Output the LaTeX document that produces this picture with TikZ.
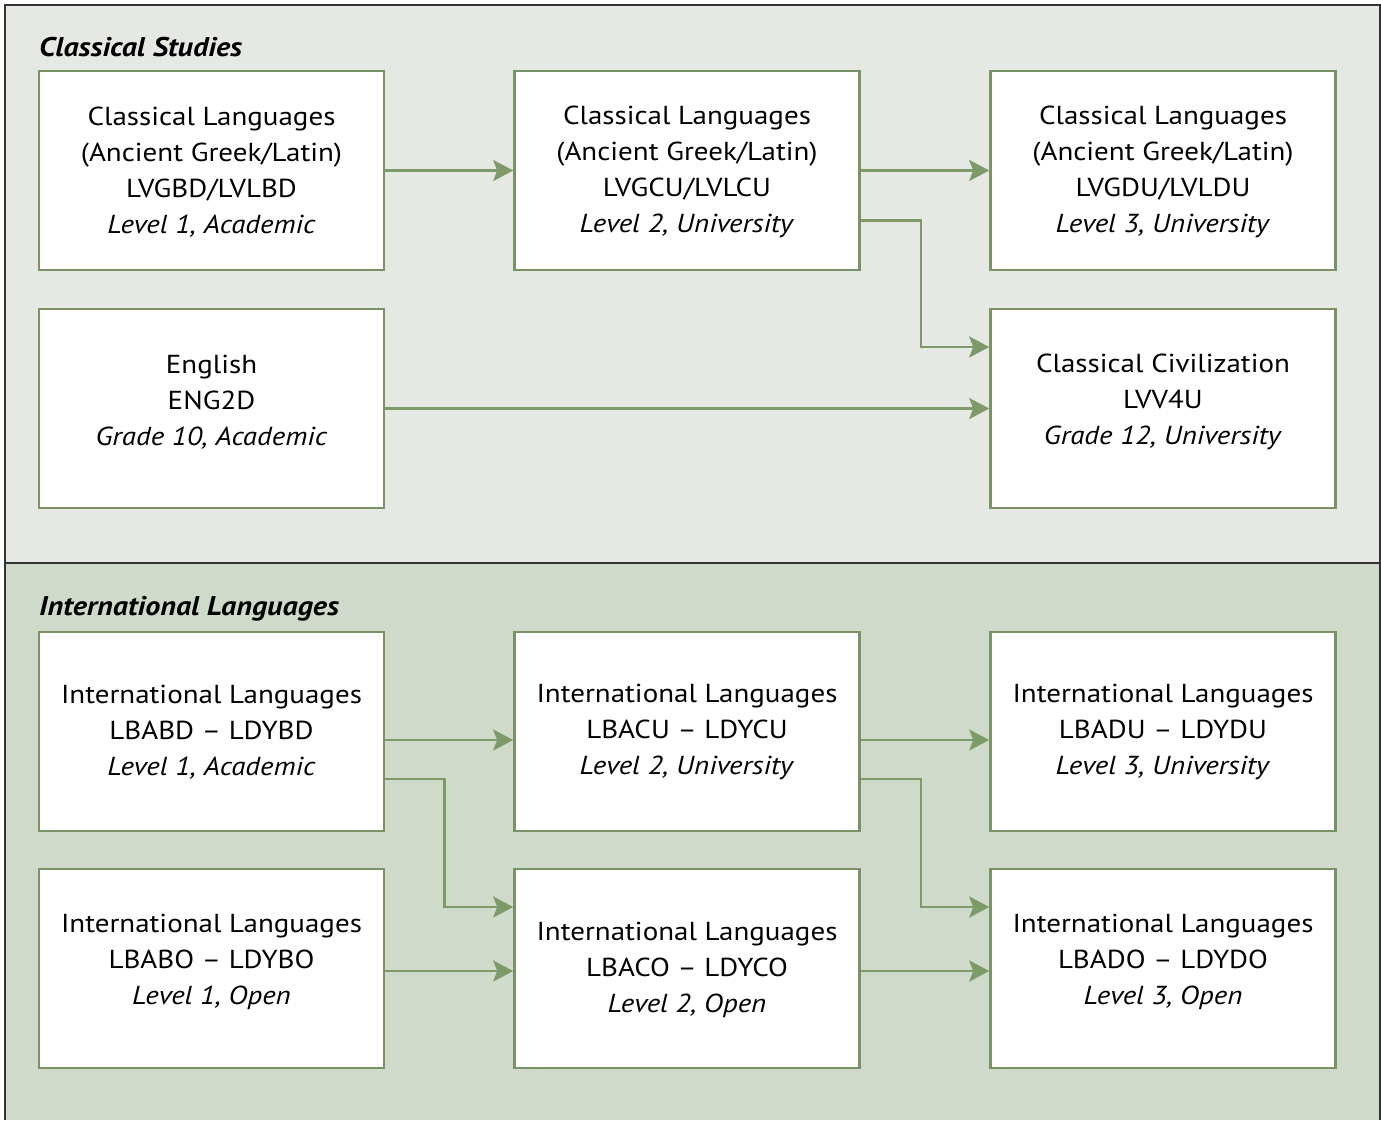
\documentclass[tikz,border=0pt]{standalone}
\usepackage{fontspec}
\setmainfont{PT Sans}[FakeStretch=1.115]
\usetikzlibrary{arrows.meta,calc}
\definecolor{topbg}{HTML}{E6E8E3}
\definecolor{botbg}{HTML}{D0DACB}
\definecolor{gline}{HTML}{7D9A68}
\definecolor{gbox}{HTML}{7A9366}
\tikzset{
  box/.style={draw=gbox,line width=2.6pt,fill=white,minimum width=345pt,minimum height=199pt,inner sep=0pt},
  txt/.style={align=center,font=\fontsize{26}{36}\selectfont,inner sep=0pt},
  ttl/.style={anchor=base west,font=\fontsize{27}{30}\selectfont\bfseries\itshape,inner sep=0pt},
  arr/.style={draw=gline,line width=2.6pt,-{Stealth[length=20pt,width=21pt,inset=4pt]}},
  frame/.style={draw=black!80,line width=1.5pt}
}
\begin{document}
\begin{tikzpicture}[x=1pt,y=-1pt]
\useasboundingbox (0,0) rectangle (1381,1120);
\fill[topbg] (5,5) rectangle (1380,563);
\fill[botbg] (5,563) rectangle (1380,1120);
\draw[frame] (5,1120) -- (5,5) -- (1380,5) -- (1380,1120);
\draw[frame] (5,563) -- (1380,563);

\node[ttl] (h1) at (39,56) {Classical Studies};
\node[ttl] (h2) at (39,615) {International Languages};

% boxes
\node[box] (b11) at (211.5,170.5) {};
\node[box] (b12) at (687,170.5) {};
\node[box] (b13) at (1163,170.5) {};
\node[box] (b21) at (211.5,408.5) {};
\node[box] (b23) at (1163,408.5) {};
\node[box] (b31) at (211.5,731.5) {};
\node[box] (b32) at (687,731.5) {};
\node[box] (b33) at (1163,731.5) {};
\node[box] (b41) at (211.5,968.5) {};
\node[box] (b42) at (687,968.5) {};
\node[box] (b43) at (1163,968.5) {};

% texts
\node[txt] (t11) at (211.5,172) {Classical Languages\\(Ancient Greek/Latin)\\LVGBD/LVLBD\\\textit{Level 1, Academic}};
\node[txt] (t12) at (687,172) {Classical Languages\\(Ancient Greek/Latin)\\LVGCU/LVLCU\\\textit{Level 2, University}};
\node[txt] (t13) at (1163,172) {Classical Languages\\(Ancient Greek/Latin)\\LVGDU/LVLDU\\\textit{Level 3, University}};
\node[txt] (t21) at (211.5,402) {English\\ENG2D\\\textit{Grade 10, Academic}};
\node[txt] (t23) at (1163,402) {Classical Civilization\\LVV4U\\\textit{Grade 12, University}};
\node[txt] (t31) at (211.5,732) {International Languages\\LBABD – LDYBD\\\textit{Level 1, Academic}};
\node[txt] (t32) at (687,732) {International Languages\\LBACU – LDYCU\\\textit{Level 2, University}};
\node[txt] (t33) at (1163,732) {International Languages\\LBADU – LDYDU\\\textit{Level 3, University}};
\node[txt] (t41) at (211.5,962) {International Languages\\LBABO – LDYBO\\\textit{Level 1, Open}};
\node[txt] (t42) at (687,970) {International Languages\\LBACO – LDYCO\\\textit{Level 2, Open}};
\node[txt] (t43) at (1163,962) {International Languages\\LBADO – LDYDO\\\textit{Level 3, Open}};

% connectors
\draw[arr] (b11.east) -- (b12.west);
\draw[arr] (b12.east) -- (b13.west);
\draw[arr] ($(b12.east)+(0,50)$) -- ++(60,0) |- ($(b23.west)+(0,-61.5)$);
\draw[arr] (b21.east) -- (b23.west);

\draw[arr] ($(b31.east)+(0,8.5)$) -- ($(b32.west)+(0,8.5)$);
\draw[arr] ($(b32.east)+(0,8.5)$) -- ($(b33.west)+(0,8.5)$);
\draw[arr] ($(b31.east)+(0,47.5)$) -- ++(59,0) |- ($(b42.west)+(0,-61.5)$);
\draw[arr] ($(b32.east)+(0,47.5)$) -- ++(60,0) |- ($(b43.west)+(0,-61.5)$);
\draw[arr] ($(b41.east)+(0,2.5)$) -- ($(b42.west)+(0,2.5)$);
\draw[arr] ($(b42.east)+(0,2.5)$) -- ($(b43.west)+(0,2.5)$);
\end{tikzpicture}
\end{document}
